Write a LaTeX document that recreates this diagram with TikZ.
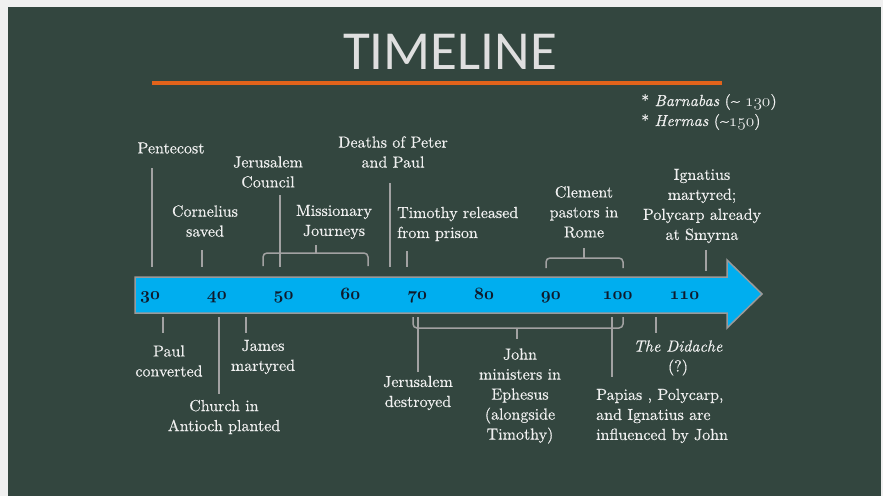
\documentclass[tikz,border=0pt]{standalone}
\usepackage{fontspec}
\usepackage{xcolor}
\usepackage{tikz}
\usetikzlibrary{positioning}
\newfontfamily\titlefont{Carlito}
\newfontfamily\lblfont{lmroman10-regular.otf}[FakeBold=0.35, ItalicFont=lmroman10-italic.otf, ItalicFeatures={FakeBold=0.35}]
\newcommand\onum[2][m]{{\fontencoding{OML}\fontfamily{cmm}\fontseries{#1}\fontshape{it}\selectfont#2}}
\definecolor{board}{HTML}{33463F}
\definecolor{chalk}{HTML}{F0F0F0}
\definecolor{tickgray}{HTML}{A2A2A2}
\definecolor{arrowblue}{HTML}{00AEEF}
\definecolor{arrowedge}{HTML}{9A9A9A}
\definecolor{yearblue}{HTML}{0F1A2B}
\definecolor{rulecol}{HTML}{E2631B}

\begin{document}
\begin{tikzpicture}[x=1pt,y=-1pt,
    lbl/.style={text=chalk, align=center, inner sep=0pt, font=\lblfont\fontsize{16}{20}\selectfont},
    year/.style={text=yearblue, inner sep=0pt, anchor=base, font=\fontsize{16}{18}\selectfont},
    tickline/.style={draw=tickgray, line width=1.5pt},
    bracket/.style={tickline, rounded corners=4pt}]
    \useasboundingbox (0,0) rectangle (883,496);
    \fill[black!6] (0,0) rectangle (883,496);
    \fill[board] (8,7) rectangle (881,496);

    \node[text=chalk!85!gray, font=\titlefont\fontsize{55}{60}\selectfont] (title) at (450,52) {TIMELINE};
    \coordinate (rl) at (152,83);
    \coordinate (rr) at (722,83);
    \draw[rulecol, line width=4pt] (rl) -- (rr);

    \filldraw[fill=arrowblue, draw=arrowedge, line width=1.5pt] (135,277) -- (727,277) -- (727,260) -- (762,294)
        -- (727,328) -- (727,313) -- (135,313) -- cycle;
    \foreach \yr [count=\i from 0] in {30,40,...,110}
        \node[year] (y\yr) at ({150+\i*66.8},299) {\onum[b]{\yr}};

    \node[lbl, align=left, anchor=west] (notes) at (641,112) {* \textit{Barnabas} (\textasciitilde{} \onum{130})\\* \textit{Hermas} (\textasciitilde\onum{150})};

    \node[lbl] (pent) at (171,148) {Pentecost};
    \node[lbl] (corn) at (205,221) {Cornelius\\saved};
    \node[lbl] (jcoun) at (268,172) {Jerusalem\\Council};
    \node[lbl] (miss) at (334,222) {Missionary\\Journeys};
    \node[lbl] (death) at (393,152) {Deaths of Peter\\and Paul};
    \node[lbl, align=left, anchor=west] (timo) at (397,224) {Timothy released\\from prison};
    \node[lbl] (clem) at (584,212) {Clement\\pastors in\\Rome};
    \node[lbl] (igna) at (702,206) {Ignatius\\martyred;\\Polycarp already\\at Smyrna};

    \node[lbl] (paul) at (169,361) {Paul\\converted};
    \node[lbl] (james) at (263,357) {James\\martyred};
    \node[lbl] (anti) at (224,417) {Church in\\Antioch planted};
    \node[lbl] (jdest) at (418,393) {Jerusalem\\destroyed};
    \node[lbl] (john) at (520,396) {John\\ministers in\\Ephesus\\(alongside\\Timothy)};
    \node[lbl] (dida) at (678,358) {\textit{The Didache}\\(?)};
    \node[lbl, align=left, anchor=west] (papi) at (596,416) {Papias , Polycarp,\\and Ignatius are\\influenced by John};

    \coordinate (pent-a) at (152,168);   \coordinate (pent-b) at (152,267);
    \coordinate (corn-a) at (202,250);   \coordinate (corn-b) at (202,267);
    \coordinate (jcoun-a) at (280,195);  \coordinate (jcoun-b) at (280,267);
    \coordinate (death-a) at (390,183);  \coordinate (death-b) at (390,267);
    \coordinate (timo-a) at (407,251);   \coordinate (timo-b) at (407,267);
    \coordinate (igna-a) at (706,250);   \coordinate (igna-b) at (706,271);
    \draw[tickline] (pent-a) -- (pent-b);
    \draw[tickline] (corn-a) -- (corn-b);
    \draw[tickline] (jcoun-a) -- (jcoun-b);
    \draw[tickline] (death-a) -- (death-b);
    \draw[tickline] (timo-a) -- (timo-b);
    \draw[tickline] (igna-a) -- (igna-b);

    \coordinate (miss-l) at (263,266);   \coordinate (miss-r) at (368,266);
    \coordinate (miss-c) at (316,253);   \coordinate (miss-t) at (316,245);
    \draw[bracket] (miss-l) |- (miss-c) -| (miss-r);
    \draw[tickline] (miss-c) -- (miss-t);
    \coordinate (clem-l) at (546,268);   \coordinate (clem-r) at (623,268);
    \coordinate (clem-c) at (584,258);   \coordinate (clem-t) at (584,248);
    \draw[bracket] (clem-l) |- (clem-c) -| (clem-r);
    \draw[tickline] (clem-c) -- (clem-t);

    \coordinate (paul-a) at (163,317);   \coordinate (paul-b) at (163,333);
    \coordinate (anti-a) at (219,317);   \coordinate (anti-b) at (219,394);
    \coordinate (james-a) at (246,317);  \coordinate (james-b) at (246,333);
    \coordinate (jdest-a) at (418,317);  \coordinate (jdest-b) at (418,372);
    \coordinate (papi-a) at (612,317);   \coordinate (papi-b) at (612,377);
    \coordinate (dida-a) at (656,317);   \coordinate (dida-b) at (656,333);
    \draw[tickline] (paul-a) -- (paul-b);
    \draw[tickline] (anti-a) -- (anti-b);
    \draw[tickline] (james-a) -- (james-b);
    \draw[tickline] (jdest-a) -- (jdest-b);
    \draw[tickline] (papi-a) -- (papi-b);
    \draw[tickline] (dida-a) -- (dida-b);

    \coordinate (john-l) at (413,317);   \coordinate (john-r) at (623,317);
    \coordinate (john-c) at (517,328);   \coordinate (john-t) at (517,339);
    \draw[bracket] (john-l) |- (john-c) -| (john-r);
    \draw[tickline] (john-c) -- (john-t);
\end{tikzpicture}
\end{document}
